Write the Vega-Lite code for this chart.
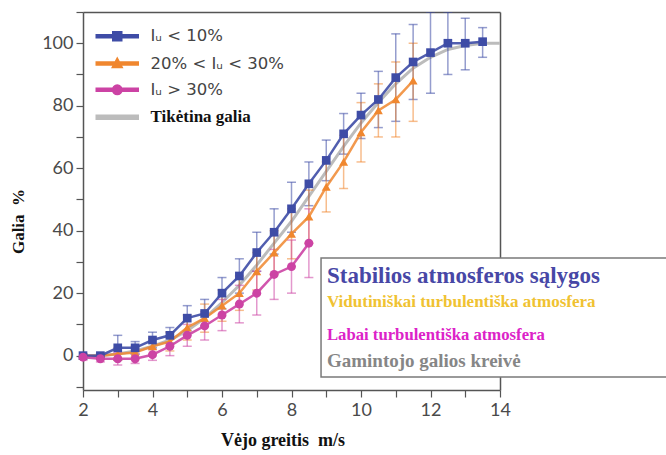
{
  "$schema": "https://vega.github.io/schema/vega-lite/v6.json",
  "width": 417,
  "height": 378,
  "autosize": {"type": "none"},
  "padding": {"left": 83, "top": 12, "right": 166, "bottom": 65},
  "background": "white",
  "config": {
    "view": {"stroke": null},
    "axis": {"grid": false}
  },
  "datasets": {
    "curves": [
      {"v": 2.0, "s": "Iᵤ < 10%", "p": 0, "lo": -0.5, "hi": 0.5},
      {"v": 2.5, "s": "Iᵤ < 10%", "p": 0, "lo": -0.5, "hi": 0.5},
      {"v": 3.0, "s": "Iᵤ < 10%", "p": 2.5, "lo": -1.5, "hi": 6.5},
      {"v": 3.5, "s": "Iᵤ < 10%", "p": 2.5, "lo": 0.5, "hi": 4.5},
      {"v": 4.0, "s": "Iᵤ < 10%", "p": 5, "lo": 2.5, "hi": 7.5},
      {"v": 4.5, "s": "Iᵤ < 10%", "p": 6.5, "lo": 4, "hi": 9},
      {"v": 5.0, "s": "Iᵤ < 10%", "p": 12, "lo": 8, "hi": 16},
      {"v": 5.5, "s": "Iᵤ < 10%", "p": 13.5, "lo": 9.5, "hi": 18},
      {"v": 6.0, "s": "Iᵤ < 10%", "p": 20, "lo": 15, "hi": 25},
      {"v": 6.5, "s": "Iᵤ < 10%", "p": 25.5, "lo": 20, "hi": 31},
      {"v": 7.0, "s": "Iᵤ < 10%", "p": 33, "lo": 27, "hi": 39.5},
      {"v": 7.5, "s": "Iᵤ < 10%", "p": 39.5, "lo": 32.5, "hi": 47},
      {"v": 8.0, "s": "Iᵤ < 10%", "p": 47, "lo": 39.5, "hi": 55.5},
      {"v": 8.5, "s": "Iᵤ < 10%", "p": 55, "lo": 48, "hi": 62},
      {"v": 9.0, "s": "Iᵤ < 10%", "p": 62.5, "lo": 56, "hi": 69},
      {"v": 9.5, "s": "Iᵤ < 10%", "p": 71, "lo": 64.5, "hi": 77.5},
      {"v": 10.0, "s": "Iᵤ < 10%", "p": 77, "lo": 69.5, "hi": 84},
      {"v": 10.5, "s": "Iᵤ < 10%", "p": 82, "lo": 73, "hi": 91},
      {"v": 11.0, "s": "Iᵤ < 10%", "p": 89, "lo": 75, "hi": 103},
      {"v": 11.5, "s": "Iᵤ < 10%", "p": 94, "lo": 82, "hi": 106},
      {"v": 12.0, "s": "Iᵤ < 10%", "p": 97, "lo": 84, "hi": 110},
      {"v": 12.5, "s": "Iᵤ < 10%", "p": 100, "lo": 90, "hi": 110},
      {"v": 13.0, "s": "Iᵤ < 10%", "p": 100, "lo": 91.5, "hi": 108},
      {"v": 13.5, "s": "Iᵤ < 10%", "p": 100.5, "lo": 95.5, "hi": 105},
      {"v": 2.0, "s": "20% < Iᵤ < 30%", "p": 0, "lo": -0.5, "hi": 0.5},
      {"v": 2.5, "s": "20% < Iᵤ < 30%", "p": 0, "lo": -0.5, "hi": 0.5},
      {"v": 3.0, "s": "20% < Iᵤ < 30%", "p": 0.5, "lo": -1.5, "hi": 2.5},
      {"v": 3.5, "s": "20% < Iᵤ < 30%", "p": 1, "lo": -1, "hi": 3},
      {"v": 4.0, "s": "20% < Iᵤ < 30%", "p": 3, "lo": 0.5, "hi": 5.5},
      {"v": 4.5, "s": "20% < Iᵤ < 30%", "p": 4.5, "lo": 1.5, "hi": 7.5},
      {"v": 5.0, "s": "20% < Iᵤ < 30%", "p": 9, "lo": 5, "hi": 13},
      {"v": 5.5, "s": "20% < Iᵤ < 30%", "p": 12, "lo": 7.5, "hi": 16.5},
      {"v": 6.0, "s": "20% < Iᵤ < 30%", "p": 16, "lo": 11, "hi": 21},
      {"v": 6.5, "s": "20% < Iᵤ < 30%", "p": 20, "lo": 14.5, "hi": 25.5},
      {"v": 7.0, "s": "20% < Iᵤ < 30%", "p": 27, "lo": 21, "hi": 33},
      {"v": 7.5, "s": "20% < Iᵤ < 30%", "p": 33, "lo": 26, "hi": 40},
      {"v": 8.0, "s": "20% < Iᵤ < 30%", "p": 39, "lo": 31, "hi": 47},
      {"v": 8.5, "s": "20% < Iᵤ < 30%", "p": 44.5, "lo": 36, "hi": 53},
      {"v": 9.0, "s": "20% < Iᵤ < 30%", "p": 54, "lo": 46, "hi": 62},
      {"v": 9.5, "s": "20% < Iᵤ < 30%", "p": 62, "lo": 53.5, "hi": 70.5},
      {"v": 10.0, "s": "20% < Iᵤ < 30%", "p": 71.5, "lo": 62, "hi": 81},
      {"v": 10.5, "s": "20% < Iᵤ < 30%", "p": 78.5, "lo": 70, "hi": 87},
      {"v": 11.0, "s": "20% < Iᵤ < 30%", "p": 82, "lo": 70, "hi": 94},
      {"v": 11.5, "s": "20% < Iᵤ < 30%", "p": 88, "lo": 75, "hi": 100},
      {"v": 2.0, "s": "Iᵤ > 30%", "p": -0.5, "lo": -1.5, "hi": 0.5},
      {"v": 2.5, "s": "Iᵤ > 30%", "p": -1, "lo": -2, "hi": 0},
      {"v": 3.0, "s": "Iᵤ > 30%", "p": -1, "lo": -3, "hi": 1},
      {"v": 3.5, "s": "Iᵤ > 30%", "p": -1, "lo": -2.5, "hi": 0.5},
      {"v": 4.0, "s": "Iᵤ > 30%", "p": 0.3, "lo": -1.5, "hi": 2},
      {"v": 4.5, "s": "Iᵤ > 30%", "p": 3, "lo": 0, "hi": 6},
      {"v": 5.0, "s": "Iᵤ > 30%", "p": 6.5, "lo": 3, "hi": 10},
      {"v": 5.5, "s": "Iᵤ > 30%", "p": 9.5, "lo": 5, "hi": 14},
      {"v": 6.0, "s": "Iᵤ > 30%", "p": 13, "lo": 8, "hi": 18},
      {"v": 6.5, "s": "Iᵤ > 30%", "p": 16.5, "lo": 10.5, "hi": 22.5},
      {"v": 7.0, "s": "Iᵤ > 30%", "p": 20, "lo": 13, "hi": 27},
      {"v": 7.5, "s": "Iᵤ > 30%", "p": 26, "lo": 18, "hi": 34},
      {"v": 8.0, "s": "Iᵤ > 30%", "p": 28.5, "lo": 20, "hi": 37},
      {"v": 8.5, "s": "Iᵤ > 30%", "p": 36, "lo": 25, "hi": 47}
    ],
    "ref": [
      {"v": 2.0, "s": "Tikėtina galia", "p": 0},
      {"v": 2.5, "s": "Tikėtina galia", "p": 0},
      {"v": 3.0, "s": "Tikėtina galia", "p": 0.5},
      {"v": 3.5, "s": "Tikėtina galia", "p": 1.5},
      {"v": 4.0, "s": "Tikėtina galia", "p": 3},
      {"v": 4.5, "s": "Tikėtina galia", "p": 5},
      {"v": 5.0, "s": "Tikėtina galia", "p": 8},
      {"v": 5.5, "s": "Tikėtina galia", "p": 12},
      {"v": 6.0, "s": "Tikėtina galia", "p": 17},
      {"v": 6.5, "s": "Tikėtina galia", "p": 22.5},
      {"v": 7.0, "s": "Tikėtina galia", "p": 29},
      {"v": 7.5, "s": "Tikėtina galia", "p": 36},
      {"v": 8.0, "s": "Tikėtina galia", "p": 43},
      {"v": 8.5, "s": "Tikėtina galia", "p": 51},
      {"v": 9.0, "s": "Tikėtina galia", "p": 59},
      {"v": 9.5, "s": "Tikėtina galia", "p": 67},
      {"v": 10.0, "s": "Tikėtina galia", "p": 74.5},
      {"v": 10.5, "s": "Tikėtina galia", "p": 81},
      {"v": 11.0, "s": "Tikėtina galia", "p": 87},
      {"v": 11.5, "s": "Tikėtina galia", "p": 92},
      {"v": 12.0, "s": "Tikėtina galia", "p": 95.5},
      {"v": 12.5, "s": "Tikėtina galia", "p": 98},
      {"v": 13.0, "s": "Tikėtina galia", "p": 99.3},
      {"v": 13.5, "s": "Tikėtina galia", "p": 100},
      {"v": 14.0, "s": "Tikėtina galia", "p": 100}
    ]
  },
  "resolve": {"axis": {"x": "independent", "y": "independent"}},
  "layer": [
    {
      "data": {"name": "ref"},
      "mark": {"type": "line", "strokeWidth": 3, "clip": true},
      "encoding": {
        "x": {
          "field": "v", "type": "quantitative",
          "scale": {"domain": [2, 14], "nice": false, "zero": false},
          "axis": {
            "orient": "bottom",
            "values": [2, 3, 4, 5, 6, 7, 8, 9, 10, 11, 12, 13, 14],
            "labelExpr": "datum.value % 2 === 0 ? datum.label : ''",
            "title": "Vėjo greitis\u00a0\u00a0m/s",
            "titleFont": "Liberation Serif", "titleFontWeight": "bold", "titleFontSize": 18, "titleColor": "#111",
            "titleX": 199.5, "titleY": 50, "titleAlign": "center", "titleBaseline": "middle",
            "labelFont": "Lato", "labelFontSize": 18, "labelColor": "#4a4a4a", "labelPadding": 4,
            "labelFlush": false, "labelOverlap": false,
            "domainColor": "#555", "domainWidth": 1.5,
            "tickColor": "#555", "tickSize": 7, "tickWidth": 1.2
          }
        },
        "y": {
          "field": "p", "type": "quantitative",
          "scale": {"domain": [-11, 110], "nice": false, "zero": false},
          "axis": {
            "orient": "left",
            "values": [-10, 0, 10, 20, 30, 40, 50, 60, 70, 80, 90, 100, 110],
            "labelExpr": "datum.value % 20 === 0 && datum.value >= 0 && datum.value <= 100 ? datum.label : ''",
            "title": "Galia\u00a0\u00a0%",
            "titleFont": "Liberation Serif", "titleFontWeight": "bold", "titleFontSize": 17, "titleColor": "#111",
            "titleX": -65, "titleY": 209, "titleAlign": "center", "titleBaseline": "middle", "titleAngle": -90,
            "labelFont": "Lato", "labelFontSize": 18, "labelColor": "#4a4a4a", "labelPadding": 3,
            "labelFlush": false, "labelOverlap": false,
            "domainColor": "#555", "domainWidth": 1.5,
            "tickColor": "#555", "tickSize": 7, "tickWidth": 1.2
          }
        },
        "color": {
          "field": "s", "type": "nominal",
          "scale": {
            "domain": ["Iᵤ < 10%", "20% < Iᵤ < 30%", "Iᵤ > 30%", "Tikėtina galia"],
            "range": ["#3e4ca6", "#f0872f", "#cc43a4", "#bcbcbc"]
          },
          "legend": {
            "orient": "none", "legendX": 26, "legendY": 16,
            "title": null, "padding": 0,
            "symbolSize": 100, "labelOffset": 25, "rowPadding": 9.3,
            "labelFont": "DejaVu Sans", "labelFontSize": 16.5, "labelColor": "#444",
            "labelLimit": 300,
            "encode": {
              "symbols": {
                "update": {
                  "shape": {"signal": "datum.value === 'Iᵤ < 10%' ? 'M-4.2,-0.3H4.2V0.3H-4.2Z M-0.9,-0.9H0.9V0.9H-0.9Z' : datum.value === '20% < Iᵤ < 30%' ? 'M-4.2,-0.3H4.2V0.3H-4.2Z M0,-1.1L1,0.8H-1Z' : datum.value === 'Iᵤ > 30%' ? 'M-4.2,-0.3H4.2V0.3H-4.2Z M-0.95,0A0.95,0.95 0 1,1 0.95,0A0.95,0.95 0 1,1 -0.95,0Z' : 'M-4.2,-0.4H4.2V0.4H-4.2Z'"},
                  "fill": {"scale": "color", "field": "value"},
                  "fillOpacity": {"value": 1},
                  "stroke": {"value": "transparent"},
                  "opacity": {"value": 1}
                }
              },
              "labels": {
                "update": {
                  "font": {"signal": "datum.value === 'Tikėtina galia' ? 'Liberation Serif' : 'DejaVu Sans'"},
                  "fontWeight": {"signal": "datum.value === 'Tikėtina galia' ? 'bold' : 'normal'"},
                  "fontSize": {"signal": "datum.value === 'Tikėtina galia' ? 17 : 16.5"},
                  "fill": {"signal": "datum.value === 'Tikėtina galia' ? '#111' : '#444'"}
                }
              }
            }
          }
        }
      }
    },
    {
      "data": {"name": "curves"},
      "mark": {"type": "errorbar", "ticks": {"size": 9}, "thickness": 1.5, "opacity": 0.55, "clip": true},
      "encoding": {
        "x": {"field": "v", "type": "quantitative", "axis": {"orient": "top", "labels": false, "ticks": false, "title": null, "domainColor": "#555", "domainWidth": 1.5}},
        "y": {"field": "lo", "type": "quantitative", "axis": {"orient": "right", "labels": false, "ticks": false, "title": null, "domainColor": "#555", "domainWidth": 1.5}},
        "y2": {"field": "hi"},
        "color": {"field": "s", "type": "nominal", "legend": null}
      }
    },
    {
      "data": {"name": "curves"},
      "transform": [{"filter": "datum.s === '20% < Iᵤ < 30%'"}],
      "encoding": {
        "x": {"field": "v", "type": "quantitative", "axis": null},
        "y": {"field": "p", "type": "quantitative", "axis": null},
        "color": {"field": "s", "type": "nominal", "legend": null}
      },
      "layer": [
        {"mark": {"type": "line", "strokeWidth": 2.5, "opacity": 0.85}},
        {"mark": {"type": "point", "shape": "triangle-up", "filled": true, "size": 80, "opacity": 1}}
      ]
    },
    {
      "data": {"name": "curves"},
      "transform": [{"filter": "datum.s === 'Iᵤ < 10%'"}],
      "encoding": {
        "x": {"field": "v", "type": "quantitative", "axis": null},
        "y": {"field": "p", "type": "quantitative", "axis": null},
        "color": {"field": "s", "type": "nominal", "legend": null}
      },
      "layer": [
        {"mark": {"type": "line", "strokeWidth": 2.5, "opacity": 0.9}},
        {"mark": {"type": "point", "shape": "square", "filled": true, "size": 75, "opacity": 1}}
      ]
    },
    {
      "data": {"name": "curves"},
      "transform": [{"filter": "datum.s === 'Iᵤ > 30%'"}],
      "encoding": {
        "x": {"field": "v", "type": "quantitative", "axis": null},
        "y": {"field": "p", "type": "quantitative", "axis": null},
        "color": {"field": "s", "type": "nominal", "legend": null}
      },
      "layer": [
        {"mark": {"type": "line", "strokeWidth": 2.5, "opacity": 0.9}},
        {"mark": {"type": "point", "shape": "circle", "filled": true, "size": 80, "opacity": 1}}
      ]
    },
    {
      "data": {"values": [{}]},
      "mark": {"type": "rect", "fill": "white", "stroke": "#7a7a7a", "strokeWidth": 1.5},
      "encoding": {
        "x": {"datum": 8.85, "type": "quantitative", "axis": null},
        "x2": {"datum": 19},
        "y": {"datum": 31.25, "type": "quantitative", "axis": null},
        "y2": {"datum": -6.8}
      }
    },
    {
      "data": {"values": [{}]},
      "mark": {"type": "text", "text": "Stabilios atmosferos sąlygos", "font": "Liberation Serif", "fontWeight": "bold", "fontSize": 23, "color": "#4747a6", "align": "left", "baseline": "middle"},
      "encoding": {
        "x": {"datum": 9.02, "type": "quantitative", "axis": null},
        "y": {"datum": 25.5, "type": "quantitative", "axis": null}
      }
    },
    {
      "data": {"values": [{}]},
      "mark": {"type": "text", "text": "Vidutiniškai turbulentiška atmosfera", "font": "Liberation Serif", "fontWeight": "bold", "fontSize": 17, "color": "#f0c232", "align": "left", "baseline": "middle"},
      "encoding": {
        "x": {"datum": 9.02, "type": "quantitative", "axis": null},
        "y": {"datum": 17.2, "type": "quantitative", "axis": null}
      }
    },
    {
      "data": {"values": [{}]},
      "mark": {"type": "text", "text": "Labai turbulentiška atmosfera", "font": "Liberation Serif", "fontWeight": "bold", "fontSize": 16.7, "color": "#dc22c8", "align": "left", "baseline": "middle"},
      "encoding": {
        "x": {"datum": 9.02, "type": "quantitative", "axis": null},
        "y": {"datum": 6.6, "type": "quantitative", "axis": null}
      }
    },
    {
      "data": {"values": [{}]},
      "mark": {"type": "text", "text": "Gamintojo galios kreivė", "font": "Liberation Serif", "fontWeight": "bold", "fontSize": 19, "color": "#868686", "align": "left", "baseline": "middle"},
      "encoding": {
        "x": {"datum": 9.02, "type": "quantitative", "axis": null},
        "y": {"datum": -1.6, "type": "quantitative", "axis": null}
      }
    }
  ]
}
